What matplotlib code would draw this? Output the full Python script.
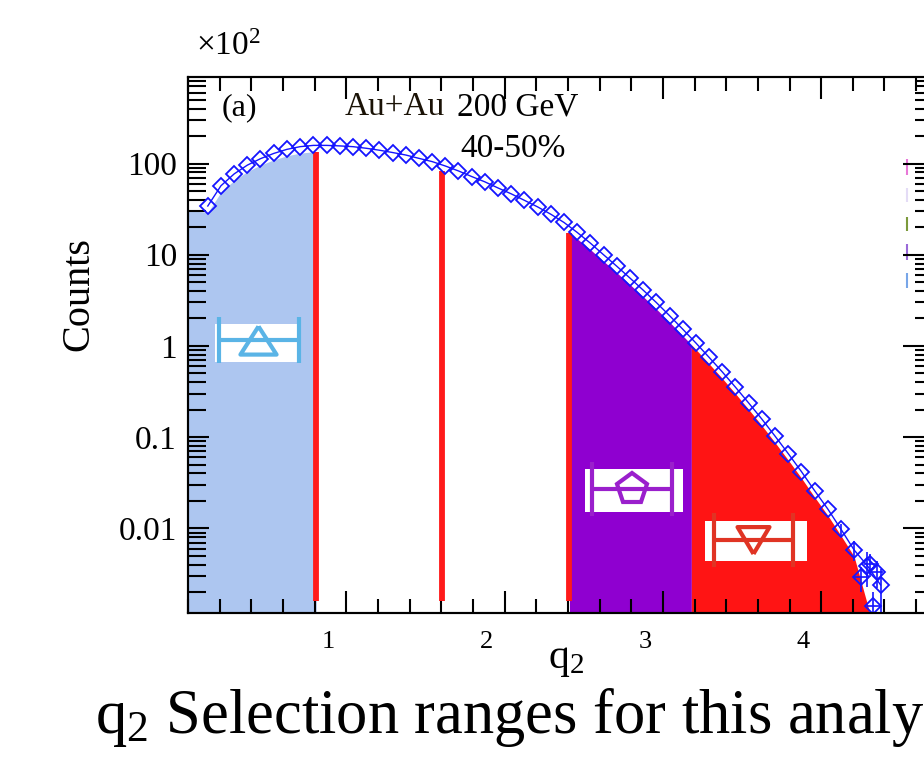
#
# q2 distribution, Au+Au 200 GeV 40-50%, with the q2 selection ranges shaded
#
import numpy as np
import matplotlib
matplotlib.use('Agg')
import matplotlib.pyplot as plt
from matplotlib.patches import Rectangle
from matplotlib.transforms import ScaledTranslation
from matplotlib.ticker import FixedLocator, FixedFormatter, LogLocator, NullFormatter, MultipleLocator

plt.rcParams['font.family'] = 'Liberation Serif'
plt.rcParams['mathtext.fontset'] = 'custom'
plt.rcParams['mathtext.rm'] = 'Liberation Serif'
plt.rcParams['mathtext.it'] = 'Liberation Serif:italic'

# data points (counts in units of 10^2)
q2 = [0.125, 0.208, 0.292, 0.375, 0.458, 0.542, 0.625, 0.708, 0.792, 0.875,
      0.958, 1.042, 1.125, 1.208, 1.292, 1.375, 1.458, 1.542, 1.625, 1.708,
      1.792, 1.875, 1.958, 2.042, 2.125, 2.208, 2.292, 2.375, 2.458, 2.542,
      2.625, 2.708, 2.792, 2.875, 2.958, 3.042, 3.125, 3.208, 3.292, 3.375,
      3.458, 3.542, 3.625, 3.708, 3.792, 3.875, 3.958, 4.042, 4.125, 4.208,
      4.292, 4.375]
counts = [34.2, 57, 77, 96, 113, 129, 143, 153, 158, 158,
          156, 153, 147, 140, 132, 124, 114, 105, 94, 83,
          72, 63, 54, 46.5, 39.5, 33.5, 27.8, 22.6, 17.6, 13.4,
          10.0, 7.5, 5.55, 4.1, 3.0, 2.15, 1.53, 1.08, 0.75, 0.52,
          0.354, 0.237, 0.158, 0.103, 0.066, 0.042, 0.026, 0.0163, 0.0098, 0.0058,
          0.0039, 0.0024]

# tail points with visible error bars
tail_q = [4.125, 4.208, 4.292, 4.375]
tail_v = [0.0098, 0.0058, 0.0039, 0.0024]
tail_err = [0.0015, 0.0014, 0.0016, 0.0012]

# overlapping points in the tail
extra_q = [4.25, 4.31, 4.35, 4.33]
extra_v = [0.0029, 0.0041, 0.0033, 0.0014]
extra_err = [0.0009, 0.0012, 0.0011, 0.0006]

# selection cuts and shaded ranges
cuts = [0.81, 1.605, 2.41]
ranges = [(0.0, 0.81), (2.41, 3.18), (3.18, 4.33)]
range_colors = ['#adc6f0', '#8f00d0', '#ff1414']
edge_left = 36      # curve value at q2 = 0 (fill only)
edge_right = 0.001  # curve value at the end of the red fill
fill_scale = 0.85

# symbols for each range (drawn in white boxes)
sym_q = [0.442, 2.803, 3.567]
sym_v = [1.15, 0.0268, 0.00745]
sym_xlo = [0.244, 0.249, 0.244]
sym_xhi = [0.259, 0.253, 0.257]
box_q = [(0.171, 0.708), (2.508, 3.125), (3.266, 3.908)]
box_v = [(0.671, 1.74), (0.0152, 0.0444), (0.00442, 0.0120)]
sym_colors = ['#5ab4e6', '#9a1fcc', '#e03424']
sym_marker = [[(0, 0.78), (-1, -0.78), (1, -0.78), (0, 0.78)], 'p',
              [(0, -0.84), (-1, 0.84), (1, 0.84), (0, -0.84)]]
sym_size = [26, 23, 23]
sym_cap = [16.5, 19.5, 19.5]

# little coloured marks at the right edge (legend of the next panel)
mark_colors = ['#e878d8', '#e4dcf6', '#7c9a3c', '#9a6ad8', '#78a6e8']
mark_lo = [74.8, 37.8, 18.2, 8.75, 4.31]
mark_hi = [112, 53.8, 25.9, 13.1, 6.3]

ytick_vals = [0.01, 0.1, 1, 10, 100]
ytick_labels = ['0.01', '0.1', '1', '10', '100']
xtick_vals = [1, 2, 3, 4]


fig = plt.figure(figsize=(9.24, 7.64), dpi=100)
ax = fig.add_axes([188/924, 1-612.7/764, 737/924, 535.7/764])
ax.set_yscale('log')
ax.set_xlim(0, 4.656)
ax.set_ylim(0.00119, 888)

# shaded fills under the curve
fill_q = [0.0] + q2[:50] + [4.33]
fill_v = [edge_left] + counts[:50] + [edge_right]
def curve_at(q):
    return 10**np.interp(q, fill_q, np.log10(fill_v))

for (a, b), c in zip(ranges, range_colors):
    qq = np.array([a] + [q for q in fill_q if a < q < b] + [b])
    ax.fill_between(qq, 1e-5, curve_at(qq)*fill_scale, color=c, lw=0, zorder=1)

cut_arr = np.array(cuts)
ax.vlines(cut_arr, 0.0016, curve_at(cut_arr)*fill_scale, color='#ff1a1a', lw=4.2, zorder=2)

# symbol boxes
for i in range(3):
    (x0, x1), (y0, y1) = box_q[i], box_v[i]
    ax.add_patch(Rectangle((x0, y0), x1-x0, y1-y0, facecolor='white', edgecolor='none', zorder=3))
    ax.errorbar([sym_q[i]], [sym_v[i]], xerr=[[sym_xlo[i]], [sym_xhi[i]]], fmt='none',
                ecolor=sym_colors[i], elinewidth=3, capsize=sym_cap[i], capthick=3, zorder=4)
    ax.plot([sym_q[i]], [sym_v[i]], marker=sym_marker[i], ms=sym_size[i], mfc='none',
            mec=sym_colors[i], mew=3, ls='none', zorder=5)

# data
blue = '#1414ff'
ax.plot(q2, counts, '-', color=blue, lw=1, zorder=6)
ax.plot(q2, counts, 'D', ms=8.5, mfc='none', mec=blue, mew=1.3, zorder=6, clip_on=False)
ax.errorbar(tail_q, tail_v, yerr=tail_err, fmt='none', ecolor=blue, elinewidth=1.2, zorder=6)
ax.errorbar(extra_q, extra_v, yerr=extra_err, xerr=0.04, fmt='D', ms=8.5, mfc='none',
            mec=blue, mew=1.3, ecolor=blue, elinewidth=1.2, zorder=6)

ax.vlines([4.542]*5, mark_lo, mark_hi, colors=mark_colors, lw=1.5, zorder=2)

# axes styling
for s in ax.spines.values():
    s.set_linewidth(1.5)
ax.yaxis.set_major_locator(FixedLocator(ytick_vals))
ax.yaxis.set_major_formatter(FixedFormatter(ytick_labels))
ax.yaxis.set_minor_locator(LogLocator(base=10, subs=range(2, 10), numticks=20))
ax.yaxis.set_minor_formatter(NullFormatter())
ax.xaxis.set_major_locator(FixedLocator(xtick_vals))
ax.xaxis.set_minor_locator(MultipleLocator(0.2))
ax.tick_params(axis='y', which='major', direction='in', length=15, width=1.5, labelsize=24, pad=8,
               left=True, right=False)
ax.tick_params(axis='y', which='minor', direction='in', length=13, width=1.5, left=True, right=False)
ax.tick_params(axis='x', which='major', direction='in', length=16, width=1.5, labelsize=19, pad=13,
               top=True, bottom=True)
ax.tick_params(axis='x', which='minor', direction='in', length=10, width=1.5, top=True, bottom=True)

# right side ticks
ax2 = ax.twinx()
ax2.set_yscale('log')
ax2.set_ylim(ax.get_ylim())
ax2.yaxis.set_major_locator(FixedLocator(ytick_vals + [1000]))
ax2.yaxis.set_minor_locator(LogLocator(base=10, subs=range(2, 10), numticks=20))
ax2.yaxis.set_major_formatter(NullFormatter())
ax2.yaxis.set_minor_formatter(NullFormatter())
ax2.tick_params(axis='y', which='major', direction='in', length=16, width=1.5)
ax2.tick_params(axis='y', which='minor', direction='in', length=7, width=1.5)
for s in ax2.spines.values():
    s.set_linewidth(1.5)

# x tick labels sit a bit left of their ticks
shift = ScaledTranslation(-18/100, 0, fig.dpi_scale_trans)
for lab in ax.get_xticklabels():
    lab.set_transform(lab.get_transform() + shift)

# texts
fig.text(196/924, 1-55/764, '×10$^{2}$', fontsize=24, va='baseline')
fig.text(222/924, 1-115/764, '(a)', fontsize=23, va='baseline')
fig.text(345/924, 1-115/764, 'Au+Au', fontsize=24, va='baseline', color='#1a1206')
fig.text(457/924, 1-115/764, '200 GeV', fontsize=24, va='baseline')
fig.text(460/924, 1-157/764, '40-50%', fontsize=24, va='baseline')
fig.text(78.5/924, 1-293.5/764, 'Counts', fontsize=29, rotation=90, ha='center', va='center')
fig.text(548/924, 1-668/764, r'$\mathrm{q}_{2}$', fontsize=30, va='baseline')
fig.text(95/924, 1-733/764, r'$\mathrm{q}_{2}$ Selection ranges for this analysis', fontsize=45, va='baseline')

plt.savefig('out.png', dpi=100)
